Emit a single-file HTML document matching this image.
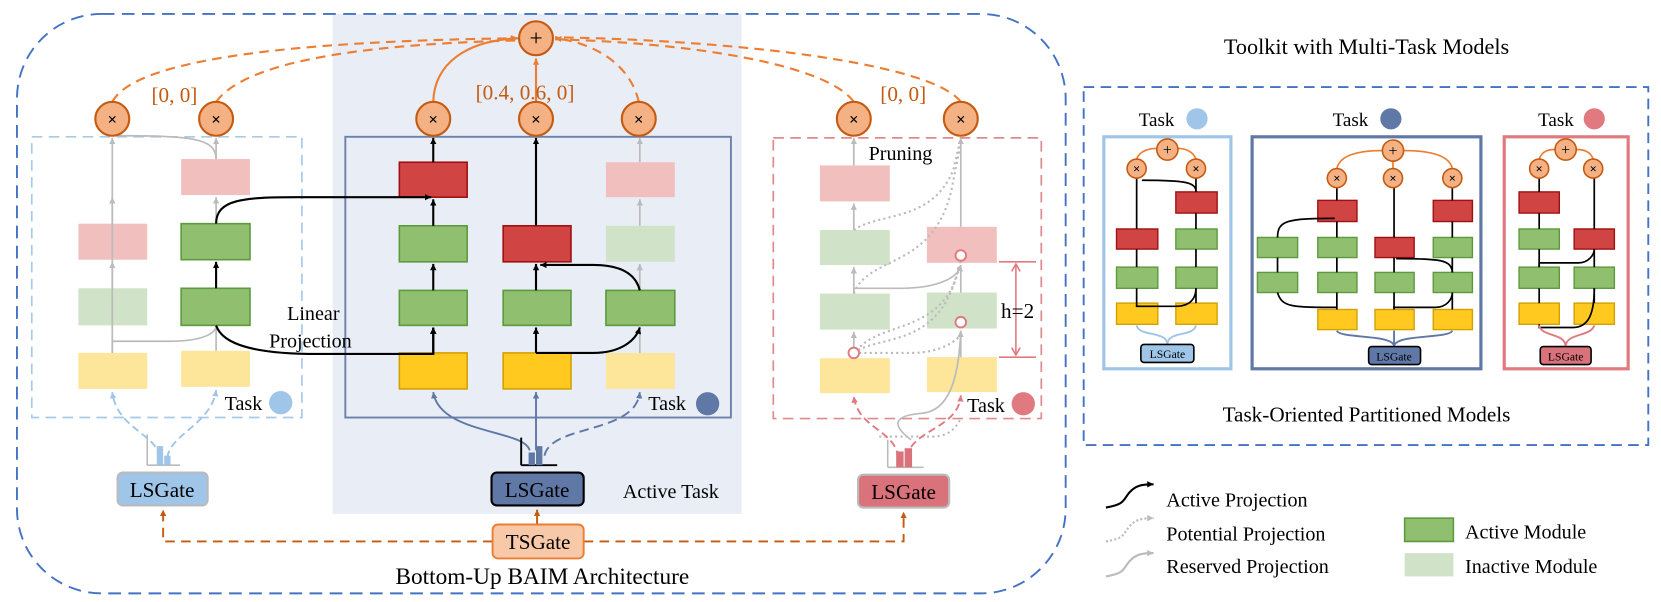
<!DOCTYPE html>
<html><head><meta charset="utf-8"><style>
html,body{margin:0;padding:0;background:#fff;}
svg{display:block;}
text{font-family:"Liberation Serif",serif;}
</style></head><body>
<svg width="1661" height="602" viewBox="0 0 1568 568" xmlns="http://www.w3.org/2000/svg">
<defs>
<marker id="ak" markerWidth="8" markerHeight="8" refX="6" refY="3" orient="auto" markerUnits="userSpaceOnUse"><path d="M0,0 L6,3 L0,6z" fill="#000"/></marker>
<marker id="ag" markerWidth="8" markerHeight="8" refX="6" refY="3" orient="auto" markerUnits="userSpaceOnUse"><path d="M0,0 L6,3 L0,6z" fill="#bbb"/></marker>
<marker id="ao" markerWidth="8" markerHeight="8" refX="6" refY="3" orient="auto" markerUnits="userSpaceOnUse"><path d="M0,0 L6,3 L0,6z" fill="#ed7d31"/></marker>
<marker id="ad" markerWidth="8" markerHeight="8" refX="6" refY="3" orient="auto" markerUnits="userSpaceOnUse"><path d="M0,0 L6,3 L0,6z" fill="#c55a11"/></marker>
<marker id="ab" markerWidth="8" markerHeight="8" refX="6" refY="3" orient="auto" markerUnits="userSpaceOnUse"><path d="M0,0 L6,3 L0,6z" fill="#6078a6"/></marker>
<marker id="al" markerWidth="8" markerHeight="8" refX="6" refY="3" orient="auto" markerUnits="userSpaceOnUse"><path d="M0,0 L6,3 L0,6z" fill="#9fc5e8"/></marker>
<marker id="ap" markerWidth="8" markerHeight="8" refX="6" refY="3" orient="auto" markerUnits="userSpaceOnUse"><path d="M0,0 L6,3 L0,6z" fill="#e07a80"/></marker>
</defs>

<!-- active bg -->
<rect x="314" y="13" width="386" height="472" fill="#e8edf6"/>
<!-- outer -->
<rect x="16" y="13" width="990" height="547" rx="80" fill="none" stroke="#4472c4" stroke-width="1.8" stroke-dasharray="12,7"/>

<!-- task boxes -->
<rect x="30" y="129" width="255" height="265" fill="none" stroke="#a9c9e8" stroke-width="1.6" stroke-dasharray="10,6"/>
<rect x="326" y="129" width="364" height="265" fill="none" stroke="#6d82aa" stroke-width="1.8"/>
<rect x="730" y="130" width="253" height="265" fill="none" stroke="#e08a8e" stroke-width="1.6" stroke-dasharray="10,6"/>

<!-- left modules -->
<g>
<rect x="171" y="150" width="65" height="34" fill="#f2bfbf"/>
<rect x="74" y="211" width="65" height="34" fill="#f2bfbf"/>
<rect x="171" y="211" width="65" height="34" fill="#8fbf6f" stroke="#5c9a3c" stroke-width="1.5"/>
<rect x="74" y="272" width="65" height="35" fill="#d0e3c8"/>
<rect x="171" y="272" width="65" height="35" fill="#8fbf6f" stroke="#5c9a3c" stroke-width="1.5"/>
<rect x="74" y="333" width="65" height="34" fill="#fde59a"/>
<rect x="171" y="331" width="65" height="34" fill="#fde59a"/>
</g>
<!-- middle modules -->
<g stroke-width="1.5">
<rect x="377" y="153" width="64" height="33" fill="#d04444" stroke="#a01010"/>
<rect x="572" y="153" width="65" height="33" fill="#f2bfbf" stroke="none"/>
<rect x="377" y="213" width="64" height="34" fill="#8fbf6f" stroke="#5c9a3c"/>
<rect x="475" y="213" width="64" height="34" fill="#d04444" stroke="#a01010"/>
<rect x="572" y="213" width="65" height="34" fill="#d0e3c8" stroke="none"/>
<rect x="377" y="274" width="64" height="33" fill="#8fbf6f" stroke="#5c9a3c"/>
<rect x="475" y="274" width="64" height="33" fill="#8fbf6f" stroke="#5c9a3c"/>
<rect x="572" y="274" width="65" height="33" fill="#8fbf6f" stroke="#5c9a3c"/>
<rect x="377" y="333" width="64" height="34" fill="#ffc920" stroke="#d4a000"/>
<rect x="475" y="333" width="64" height="34" fill="#ffc920" stroke="#d4a000"/>
<rect x="572" y="333" width="65" height="34" fill="#fde59a" stroke="none"/>
</g>
<!-- right modules -->
<g>
<rect x="774" y="156" width="66" height="34" fill="#f2bfbf"/>
<rect x="774" y="217" width="66" height="33" fill="#d0e3c8"/>
<rect x="875" y="214" width="66" height="34" fill="#f2bfbf"/>
<rect x="774" y="277" width="66" height="34" fill="#d0e3c8"/>
<rect x="875" y="276" width="66" height="34" fill="#d0e3c8"/>
<rect x="774" y="338" width="66" height="33" fill="#fde59a"/>
<rect x="875" y="337" width="66" height="33" fill="#fde59a"/>
</g>

<!-- gray connections left -->
<g fill="none" stroke="#bbb" stroke-width="1.6">
<path d="M106,333 V247" marker-end="url(#ag)"/>
<path d="M106,272 V186" marker-end="url(#ag)" />
<path d="M106,211 V130" marker-end="url(#ag)"/>
<path d="M204,211 V186" marker-end="url(#ag)"/>
<path d="M204,150 C204,130 180,128 110,128"/>
<path d="M106,333 V322 H160 C190,322 204,315 204,307"/>
<path d="M204,331 V307"/>
<path d="M204,150 V130" marker-end="url(#ag)"/>
<path d="M604,333 V307"/>
<path d="M604,274 V249" marker-end="url(#ag)"/>
<path d="M604,213 V188" marker-end="url(#ag)"/>
<path d="M604,153 V130" marker-end="url(#ag)"/>
<!-- right -->
<path d="M806,338 V313" marker-end="url(#ag)"/>
<path d="M806,277 V252" marker-end="url(#ag)"/>
<path d="M806,217 V192" marker-end="url(#ag)"/>
<path d="M806,156 V130" marker-end="url(#ag)"/>
<path d="M907,214 V130" marker-end="url(#ag)"/>
<path d="M907,276 V252"/>
<path d="M907,337 V312"/>
<path d="M806,277 V272 H850 C885,272 905,262 907,250" marker-end="url(#ag)"/>
<path d="M860,415 C840,400 845,392 870,390 C895,388 905,360 907,312" marker-end="url(#ag)"/>
</g>
<g fill="none" stroke="#bbb" stroke-width="2" stroke-dasharray="2,3">
<path d="M806,217 C830,200 880,210 900,160 L907,130"/>
<path d="M806,277 C820,240 880,255 898,180 L907,135"/>
<path d="M806,333 C830,315 890,330 905,250"/>
<path d="M806,333 H860 C890,333 905,320 907,315"/>
<path d="M806,335 C825,300 895,320 907,245"/>
<path d="M830,412 H880 C900,412 905,398 907,395"/>
</g>
<!-- small circles right -->
<g fill="#fff" stroke="#e07a80" stroke-width="1.8">
<circle cx="806" cy="333" r="5"/><circle cx="907" cy="241" r="5"/><circle cx="907" cy="304" r="5"/>
</g>

<!-- black connections -->
<g fill="none" stroke="#000" stroke-width="2">
<path d="M204,272 V247" marker-end="url(#ak)"/>
<path d="M204,211 C204,188 230,186 280,186 H407" marker-end="url(#ak)"/>
<path d="M204,307 C210,325 240,334 300,334 H409 V309" marker-end="url(#ak)"/>
<path d="M409,333 V309" marker-end="url(#ak)"/>
<path d="M409,274 V249" marker-end="url(#ak)"/>
<path d="M409,213 V188" marker-end="url(#ak)"/>
<path d="M409,153 V130" marker-end="url(#ak)"/>
<path d="M506,333 V309" marker-end="url(#ak)"/>
<path d="M506,274 V249" marker-end="url(#ak)"/>
<path d="M506,213 V130" marker-end="url(#ak)"/>
<path d="M506,333 H560 C585,333 600,322 604,309" marker-end="url(#ak)"/>
<path d="M604,274 C600,258 585,250 560,250 H510" marker-end="url(#ak)"/>
</g>
<!-- h bracket -->
<g stroke="#e07a80" stroke-width="1.5" fill="none">
<path d="M943,247 H978 M943,337 H978"/>
<path d="M959,250 V334"/>
<path d="M955,256 L959,249 L963,256 M955,328 L959,335 L963,328"/>
</g>
<text x="945" y="300" font-size="20">h=2</text>

<!-- orange links -->
<g fill="none" stroke="#ed7d31" stroke-width="2" stroke-dasharray="9,6">
<path d="M106,96 C130,50 320,38 488,36" marker-end="url(#ao)"/>
<path d="M204,96 C230,60 330,42 488,38"/>
<path d="M603,96 C595,60 560,40 524,36" marker-end="url(#ao)"/>
<path d="M806,96 C780,60 650,40 524,37"/>
<path d="M907,96 C880,60 700,38 524,35"/>
</g>
<g fill="none" stroke="#ed7d31" stroke-width="2">
<path d="M409,96 C410,60 440,38 489,36" marker-end="url(#ao)"/>
<path d="M506,96 V55" marker-end="url(#ao)"/>
</g>
<!-- circles -->
<g fill="#f4b183" stroke="#c55a11" stroke-width="2">
<circle cx="506" cy="36" r="16"/>
<circle cx="106" cy="112" r="16"/><circle cx="204" cy="112" r="16"/>
<circle cx="409" cy="112" r="16"/><circle cx="506" cy="112" r="16"/><circle cx="603" cy="112" r="16"/>
<circle cx="806" cy="112" r="16"/><circle cx="907" cy="112" r="16"/>
</g>
<g font-family="'DejaVu Sans',sans-serif" text-anchor="middle" font-size="16" font-weight="bold">
<text x="506" y="43" font-size="22" font-weight="normal">+</text>
<text x="106" y="118">×</text><text x="204" y="118">×</text>
<text x="409" y="118">×</text><text x="506" y="118">×</text><text x="603" y="118">×</text>
<text x="806" y="118">×</text><text x="907" y="118">×</text>
</g>
<g fill="#c55a11" font-size="20">
<text x="143" y="96">[0, 0]</text>
<text x="449" y="94">[0.4, 0.6, 0]</text>
<text x="831" y="95">[0, 0]</text>
</g>
<text x="820" y="151" font-size="19">Pruning</text>
<text x="271" y="302" font-size="19">Linear</text>
<text x="254" y="328" font-size="19">Projection</text>

<!-- Task labels -->
<text x="212" y="387" font-size="19">Task</text><circle cx="265" cy="380" r="11" fill="#9fc5e8"/>
<text x="612" y="387" font-size="19">Task</text><circle cx="668" cy="381" r="11" fill="#6078a6"/>
<text x="913" y="389" font-size="19">Task</text><circle cx="966" cy="381" r="11" fill="#e07a80"/>

<!-- gate arrows -->
<g fill="none" stroke-width="1.8">
<path d="M150,432 C150,410 110,405 106,370" stroke="#9fc5e8" stroke-dasharray="7,4" marker-end="url(#al)"/>
<path d="M158,432 C160,410 200,400 204,368" stroke="#9fc5e8" stroke-dasharray="7,4" marker-end="url(#al)"/>
<path d="M500,425 C495,405 415,410 409,370" stroke="#6078a6" marker-end="url(#ab)"/>
<path d="M506,425 V370" stroke="#6078a6" marker-end="url(#ab)"/>
<path d="M514,430 C520,400 600,410 604,370" stroke="#6078a6" stroke-dasharray="9,5" marker-end="url(#ab)"/>
<path d="M848,432 C845,405 810,405 806,374" stroke="#e07a80" stroke-dasharray="7,4" marker-end="url(#ap)"/>
<path d="M856,432 C860,405 905,405 907,373" stroke="#e07a80" stroke-dasharray="7,4" marker-end="url(#ap)"/>
</g>
<!-- histograms -->
<g>
<path d="M139,439 V410 M139,439 H170" stroke="#bbb" stroke-width="1.5" fill="none"/>
<rect x="148" y="421" width="6" height="18" fill="#9fc5e8"/><rect x="155" y="430" width="6" height="9" fill="#9fc5e8"/>
<path d="M492,439 V413 M492,439 H526" stroke="#000" stroke-width="1.8" fill="none"/>
<rect x="499" y="427" width="6" height="12" fill="#6078a6"/><rect x="506" y="421" width="6" height="18" fill="#6078a6"/>
<path d="M838,441 V415 M838,441 H872" stroke="#bbb" stroke-width="1.5" fill="none"/>
<rect x="846" y="426" width="7" height="15" fill="#d9727a"/><rect x="854" y="423" width="7" height="18" fill="#d9727a"/>
</g>
<!-- gates -->
<rect x="111" y="446" width="85" height="31" rx="5" fill="#9fc5e8" stroke="#bbb" stroke-width="2"/>
<text x="153" y="469" font-size="20" text-anchor="middle">LSGate</text>
<rect x="464" y="446" width="87" height="31" rx="5" fill="#6078a6" stroke="#000" stroke-width="2"/>
<text x="507" y="469" font-size="20" text-anchor="middle">LSGate</text>
<rect x="810" y="448" width="86" height="31" rx="5" fill="#d9727a" stroke="#bbb" stroke-width="2"/>
<text x="853" y="471" font-size="20" text-anchor="middle">LSGate</text>
<text x="588" y="470" font-size="19">Active Task</text>
<g fill="none" stroke="#c55a11" stroke-width="1.8" stroke-dasharray="9,6">
<path d="M465,511 H154 V481" marker-end="url(#ad)"/>
<path d="M551,511 H853 V483" marker-end="url(#ad)"/>
</g>
<path d="M507,495 V481" stroke="#c55a11" stroke-width="1.8" marker-end="url(#ad)"/>
<rect x="465" y="495" width="86" height="32" rx="5" fill="#f8c9a8" stroke="#ed7d31" stroke-width="1.8"/>
<text x="508" y="518" font-size="20" text-anchor="middle">TSGate</text>
<text x="512" y="551" font-size="22" text-anchor="middle">Bottom-Up BAIM Architecture</text>

<!-- Toolkit -->
<text x="1290" y="51" font-size="21" text-anchor="middle">Toolkit with Multi-Task Models</text>
<rect x="1023" y="82" width="533" height="338" fill="none" stroke="#4472c4" stroke-width="1.8" stroke-dasharray="10,6"/>
<text x="1075" y="119" font-size="18">Task</text><circle cx="1130" cy="112" r="10" fill="#9fc5e8"/>
<text x="1258" y="119" font-size="18">Task</text><circle cx="1313" cy="112" r="10" fill="#6078a6"/>
<text x="1452" y="119" font-size="18">Task</text><circle cx="1505" cy="112" r="10" fill="#e07a80"/>
<rect x="1042" y="129" width="120" height="219" fill="none" stroke="#9fc5e8" stroke-width="3"/>
<rect x="1182" y="129" width="216" height="219" fill="none" stroke="#6078a6" stroke-width="3"/>
<rect x="1420" y="129" width="117" height="219" fill="none" stroke="#e07a80" stroke-width="3"/>

<!-- mini modules -->
<g stroke-width="1.3">
<!-- box1 -->
<rect x="1110" y="181" width="39" height="20" fill="#d04444" stroke="#a01010"/>
<rect x="1054" y="216" width="39" height="19" fill="#d04444" stroke="#a01010"/>
<rect x="1110" y="216" width="39" height="19" fill="#8fbf6f" stroke="#5c9a3c"/>
<rect x="1054" y="252" width="39" height="20" fill="#8fbf6f" stroke="#5c9a3c"/>
<rect x="1110" y="252" width="39" height="20" fill="#8fbf6f" stroke="#5c9a3c"/>
<rect x="1054" y="286" width="39" height="20" fill="#ffc920" stroke="#d4a000"/>
<rect x="1110" y="286" width="39" height="20" fill="#ffc920" stroke="#d4a000"/>
<!-- box2 -->
<rect x="1244" y="189" width="37" height="20" fill="#d04444" stroke="#a01010"/>
<rect x="1353" y="189" width="37" height="20" fill="#d04444" stroke="#a01010"/>
<rect x="1187" y="224" width="38" height="19" fill="#8fbf6f" stroke="#5c9a3c"/>
<rect x="1244" y="224" width="37" height="19" fill="#8fbf6f" stroke="#5c9a3c"/>
<rect x="1298" y="224" width="37" height="19" fill="#d04444" stroke="#a01010"/>
<rect x="1353" y="224" width="37" height="19" fill="#8fbf6f" stroke="#5c9a3c"/>
<rect x="1187" y="257" width="38" height="19" fill="#8fbf6f" stroke="#5c9a3c"/>
<rect x="1244" y="257" width="37" height="19" fill="#8fbf6f" stroke="#5c9a3c"/>
<rect x="1298" y="257" width="37" height="19" fill="#8fbf6f" stroke="#5c9a3c"/>
<rect x="1353" y="257" width="37" height="19" fill="#8fbf6f" stroke="#5c9a3c"/>
<rect x="1244" y="292" width="37" height="19" fill="#ffc920" stroke="#d4a000"/>
<rect x="1298" y="292" width="37" height="19" fill="#ffc920" stroke="#d4a000"/>
<rect x="1353" y="292" width="37" height="19" fill="#ffc920" stroke="#d4a000"/>
<!-- box3 -->
<rect x="1434" y="181" width="38" height="20" fill="#d04444" stroke="#a01010"/>
<rect x="1434" y="216" width="38" height="19" fill="#8fbf6f" stroke="#5c9a3c"/>
<rect x="1486" y="216" width="38" height="19" fill="#d04444" stroke="#a01010"/>
<rect x="1434" y="252" width="38" height="20" fill="#8fbf6f" stroke="#5c9a3c"/>
<rect x="1486" y="252" width="38" height="20" fill="#8fbf6f" stroke="#5c9a3c"/>
<rect x="1434" y="286" width="38" height="20" fill="#ffc920" stroke="#d4a000"/>
<rect x="1486" y="286" width="38" height="20" fill="#ffc920" stroke="#d4a000"/>
</g>
<!-- mini black links -->
<g fill="none" stroke="#000" stroke-width="1.6">
<path d="M1073,286 V272 M1073,252 V235 M1073,216 V168"/>
<path d="M1129,286 V272 M1129,252 V235 M1129,216 V201 M1129,181 V168"/>
<path d="M1129,181 C1129,172 1120,170 1078,170"/>
<path d="M1073,286 V289 H1110 C1125,289 1129,280 1129,272"/>
<path d="M1262,292 V276 M1262,257 V243 M1262,224 V209 M1262,189 V177"/>
<path d="M1316,292 V276 M1316,257 V243 M1316,224 V177"/>
<path d="M1371,292 V276 M1371,257 V243 M1371,224 V209 M1371,189 V177"/>
<path d="M1206,224 C1206,208 1215,206 1260,206"/>
<path d="M1206,257 V243"/>
<path d="M1206,276 C1210,290 1220,290 1262,290"/>
<path d="M1316,292 V290 H1355 C1366,290 1371,282 1371,276"/>
<path d="M1371,257 C1370,245 1360,244 1318,244"/>
<path d="M1453,286 V272 M1453,252 V235 M1453,216 V201 M1453,181 V168"/>
<path d="M1505,286 V272 M1505,252 V235 M1505,216 V168"/>
<path d="M1453,252 V248 H1490 C1500,248 1505,240 1505,235"/>
<path d="M1453,306 V309 H1485 C1500,309 1505,295 1505,272"/>
</g>
<!-- mini orange -->
<g fill="none" stroke="#ed7d31" stroke-width="1.6">
<path d="M1073,150 C1076,142 1085,140 1092,140"/><path d="M1129,150 C1126,142 1118,140 1112,140"/>
<path d="M1262,159 C1265,145 1285,142 1305,142"/><path d="M1371,159 C1368,145 1345,142 1325,142"/><path d="M1315,159 V152"/>
<path d="M1453,150 C1456,142 1462,141 1468,141"/><path d="M1504,150 C1501,142 1494,141 1488,141"/>
</g>
<g fill="#f4b183" stroke="#c55a11" stroke-width="1.5">
<circle cx="1102" cy="141" r="10"/><circle cx="1073" cy="159" r="9"/><circle cx="1129" cy="159" r="9"/>
<circle cx="1315" cy="142" r="10"/><circle cx="1262" cy="168" r="9"/><circle cx="1315" cy="168" r="9"/><circle cx="1371" cy="168" r="9"/>
<circle cx="1478" cy="141" r="10"/><circle cx="1453" cy="159" r="9"/><circle cx="1504" cy="159" r="9"/>
</g>
<g font-family="'DejaVu Sans',sans-serif" text-anchor="middle" font-size="12" font-weight="bold">
<text x="1102" y="146" font-size="15" font-weight="normal">+</text><text x="1073" y="163">×</text><text x="1129" y="163">×</text>
<text x="1315" y="147" font-size="15" font-weight="normal">+</text><text x="1262" y="172">×</text><text x="1315" y="172">×</text><text x="1371" y="172">×</text>
<text x="1478" y="146" font-size="15" font-weight="normal">+</text><text x="1453" y="163">×</text><text x="1504" y="163">×</text>
</g>
<!-- mini gates -->
<g fill="none" stroke-width="1.8">
<path d="M1102,325 C1102,312 1075,318 1073,307" stroke="#9fc5e8"/><path d="M1102,325 C1102,312 1127,318 1129,307" stroke="#9fc5e8"/>
<path d="M1316,327 C1316,315 1265,320 1262,312" stroke="#6078a6"/><path d="M1316,327 V312" stroke="#6078a6"/><path d="M1316,327 C1316,315 1368,320 1371,312" stroke="#6078a6"/>
<path d="M1478,327 C1478,314 1455,318 1453,307" stroke="#e07a80"/><path d="M1478,327 C1478,314 1502,318 1505,307" stroke="#e07a80"/>
</g>
<rect x="1077" y="325" width="50" height="17" rx="3" fill="#9fc5e8" stroke="#000" stroke-width="1.5"/>
<text x="1102" y="338" font-size="11" text-anchor="middle">LSGate</text>
<rect x="1292" y="327" width="49" height="17" rx="3" fill="#6078a6" stroke="#000" stroke-width="1.5"/>
<text x="1316" y="340" font-size="11" text-anchor="middle">LSGate</text>
<rect x="1454" y="327" width="48" height="17" rx="3" fill="#d9727a" stroke="#000" stroke-width="1.5"/>
<text x="1478" y="340" font-size="11" text-anchor="middle">LSGate</text>
<text x="1290" y="398" font-size="20" text-anchor="middle">Task-Oriented Partitioned Models</text>

<!-- legend -->
<path d="M1044,479 C1062,476 1060,472 1066,465 C1072,458 1078,457 1089,457" stroke="#000" stroke-width="2" fill="none" marker-end="url(#ak)"/>
<path d="M1044,511 C1062,508 1060,504 1066,497 C1072,490 1078,489 1089,489" stroke="#bbb" stroke-width="2" stroke-dasharray="2,2" fill="none" marker-end="url(#ag)"/>
<path d="M1044,544 C1062,541 1060,537 1066,530 C1072,523 1078,522 1089,522" stroke="#bbb" stroke-width="2" fill="none" marker-end="url(#ag)"/>
<text x="1101" y="478" font-size="19">Active Projection</text>
<text x="1101" y="510" font-size="19">Potential Projection</text>
<text x="1101" y="541" font-size="19">Reserved Projection</text>
<rect x="1326" y="489" width="46" height="22" fill="#8fbf6f" stroke="#5c9a3c" stroke-width="1.5"/>
<rect x="1326" y="522" width="46" height="22" fill="#d0e3c8"/>
<text x="1383" y="508" font-size="19">Active Module</text>
<text x="1383" y="541" font-size="19">Inactive Module</text>
</svg>
</body></html>
